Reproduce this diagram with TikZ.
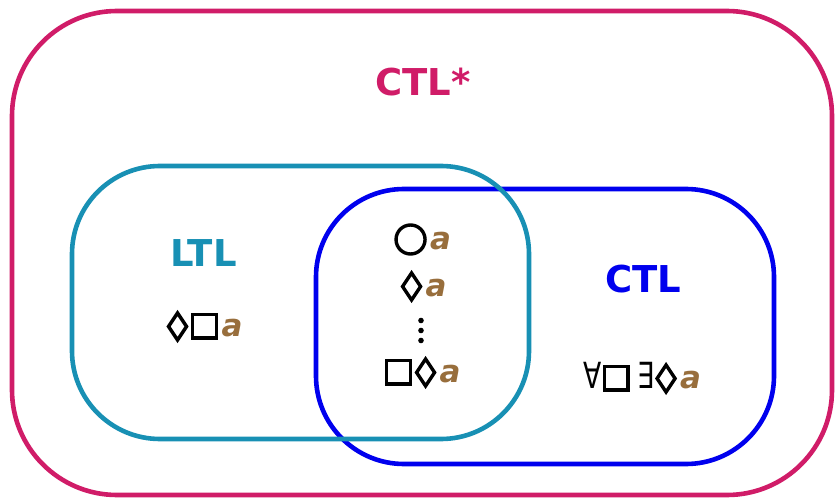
\documentclass[tikz,border=0pt]{standalone}
\usepackage{graphicx}
\usepackage{fontspec}
\setmainfont{DejaVu Sans}

\definecolor{starred}{RGB}{208,28,104}
\definecolor{ltlteal}{RGB}{24,144,180}
\definecolor{ctlblue}{RGB}{0,0,238}
\definecolor{propbrown}{RGB}{152,110,60}

% temporal operators drawn as inline glyphs (units: 1pt, baseline at 0)
\tikzset{opline/.style={line width=3.4pt,line join=miter}}
\newcommand\opnext{\tikz[baseline=0pt,x=1pt,y=1pt]{%
  \path[use as bounding box](0,-7)rectangle(35,26);
  \draw[opline](17.5,9.5)circle[radius=14.5];}}
\newcommand\opdia{\tikz[baseline=0pt,x=1pt,y=1pt]{%
  \path[use as bounding box](0,-7)rectangle(24,26);
  \draw[opline](12,23)--(21,9.5)--(12,-4)--(3,9.5)--cycle;}}
\newcommand\opbox{\tikz[baseline=0pt,x=1pt,y=1pt]{%
  \path[use as bounding box](0,-7)rectangle(30,26);
  \draw[opline](3.2,-2)rectangle(26.8,21.6);}}
\newcommand\opdots{\tikz[baseline=0pt,x=1pt,y=1pt]{%
  \path[use as bounding box](0,-7)rectangle(8,26);
  \foreach \h in {0,10,20} \fill (4,\h) circle[radius=2.8];}}
\newcommand\qall{{\fontsize{36}{40}\selectfont\scalebox{0.74}[1]{∀}}}
\newcommand\qex{{\fontsize{36}{40}\selectfont\scalebox{0.74}[1]{∃}}}
\newcommand\prop{\kern2pt{\color{propbrown}\bfseries\itshape a}}

\begin{document}
\begin{tikzpicture}[x=1pt,y=-1pt,
    region/.style={line width=4.6pt,rounded corners=88pt},
    logic/.style={font=\fontsize{37}{44}\selectfont\bfseries,anchor=base,inner sep=0pt},
    formula/.style={font=\fontsize{31}{36}\selectfont,anchor=base,inner sep=0pt}]
  \useasboundingbox (0,0) rectangle (836,500);

  % the three logics as nested regions
  \draw[region,starred,rounded corners=105pt] (12,11) rectangle (832,495);
  \draw[region,ctlblue] (316,189) rectangle (774,464);
  \draw[region,ltlteal] (72,166) rectangle (529,439);

  % region titles
  \node[logic,text=starred] (ctlstar) at (423,96) {CTL*};
  \node[logic,text=ltlteal] (ltl) at (203.5,266) {LTL};
  \node[logic,text=ctlblue] (ctl) at (643,292) {CTL};

  % formulas
  \node[formula] (fltl) at (204,336) {\opdia\opbox\prop};
  \node[formula] (f1) at (422,249) {\opnext\prop};
  \node[formula] (f2) at (423,296) {\opdia\prop};
  \node[formula] (fdots) at (421,340.5) {\opdots};
  \node[formula] (f3) at (422,382) {\opbox\opdia\prop};
  \node[formula] (fctl) at (642,388) {\qall\opbox\hspace{6pt}\qex\opdia\prop};
\end{tikzpicture}
\end{document}
